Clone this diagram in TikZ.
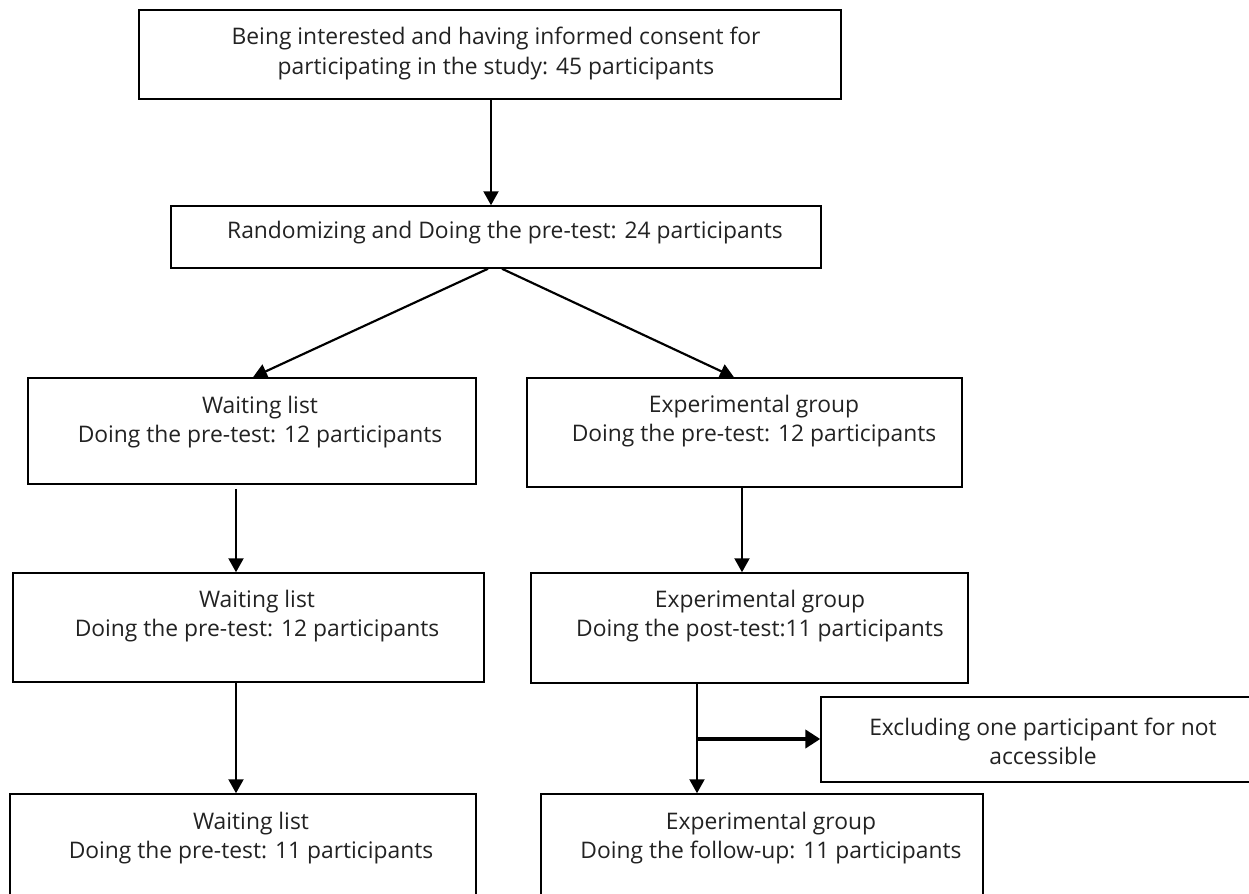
\documentclass[tikz,border=0pt]{standalone}
\usepackage{fontspec}
\setmainfont{Open Sans}
\usetikzlibrary{fit,arrows.meta,calc}
\definecolor{ink}{HTML}{222222}
\tikzset{
  box/.style={draw=black, line width=0.9pt, inner sep=0pt, fit={#1}},
  txt/.style={align=center, text=ink, font=\fontsize{13.7}{17.5}\selectfont, inner sep=0pt},
  arr/.style={line width=1.3pt, -{Triangle[length=8.4pt,width=9pt]}},
  thickarr/.style={line width=2pt, -{Triangle[length=9pt,width=11pt]}},
}
\begin{document}
\begin{tikzpicture}[x=0.6pt,y=-0.6pt]
\useasboundingbox (0,0) rectangle (1249,894);
\clip (0,0) rectangle (1249,894);
% boxes and texts
\node[box={(139,10)(841,99)}] (b1) {};
\node[txt] (t1) at (496,53.5) {Being interested and having informed consent for\\participating in the study: 45 participants};
\node[box={(171,206)(821,268)}] (b2) {};
\node[txt] (t2) at (505,233) {Randomizing and Doing the pre-test: 24 participants};
\node[box={(28,378)(476,484)}] (b3) {};
\node[txt] (t3) at (260,422) {Waiting list\\Doing the pre-test: 12 participants};
\node[box={(527,378)(962,487)}] (b4) {};
\node[txt] (t4) at (754,421) {Experimental group\\Doing the pre-test: 12 participants};
\node[box={(13,573)(484,682)}] (b5) {};
\node[txt] (t5) at (257,616) {Waiting list\\Doing the pre-test: 12 participants};
\node[box={(531,573)(968,683)}] (b6) {};
\node[txt] (t6) at (760,616) {Experimental group\\Doing the post-test:11 participants};
\node[box={(821,697)(1262,782)}] (b9) {};
\node[txt] (t9) at (1043,741) {Excluding one participant for not\\accessible};
\node[box={(10,794)(476,910)}] (b7) {};
\node[txt] (t7) at (251,838) {Waiting list\\Doing the pre-test: 11 participants};
\node[box={(541,794)(983,910)}] (b8) {};
\node[txt] (t8) at (771,838) {Experimental group\\Doing the follow-up: 11 participants};
% column coordinates
\coordinate (c0) at (491,0);
\coordinate (d1) at (488,0);
\coordinate (d2) at (502,0);
\coordinate (e1) at (253,0);
\coordinate (e2) at (734,0);
\coordinate (cl) at (236,0);
\coordinate (cr) at (742,0);
\coordinate (cr2) at (697,0);
\coordinate (br) at (697,739);
% connectors
\draw[arr] (b1.south -| c0) -- (b2.north -| c0);
\draw[arr] (b2.south -| d1) -- (b3.north -| e1);
\draw[arr] (b2.south -| d2) -- (b4.north -| e2);
\draw[arr] ($(b3.south -| cl)+(0,4)$) -- (b5.north -| cl);
\draw[arr] (b4.south -| cr) -- (b6.north -| cr);
\draw[arr] (b5.south -| cl) -- (b7.north -| cl);
\draw[arr] (b6.south -| cr2) -- (b8.north -| cr2);
\draw[thickarr] (br) -- (b9.west |- br);
\end{tikzpicture}
\end{document}
